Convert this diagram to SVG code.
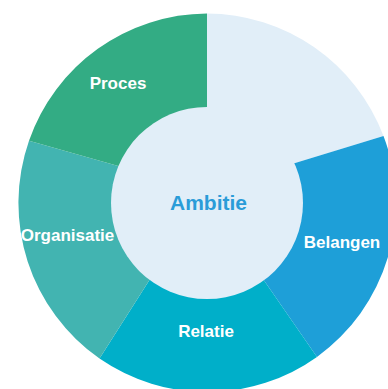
<svg xmlns="http://www.w3.org/2000/svg" width="388" height="389" viewBox="0 0 388 389">
  <style>
    .lbl { font-family: "Liberation Sans", Arial, sans-serif; font-weight: bold; font-size: 17px; fill: #ffffff; text-anchor: middle; }
    .center { font-family: "Liberation Sans", Arial, sans-serif; font-weight: bold; font-size: 21px; fill: #2A9CD8; text-anchor: middle; }
  </style>
  <rect width="388" height="389" fill="#ffffff"/>
  <g id="segment-ambitie-top">
    <path d="M207,13.5 A189.5,189.5 0 0 1 383.5,136 L251,176.5 L207,203 Z" fill="#E1EEF8"/>
  </g>
  <g id="belangen">
    <path d="M383.5,136 A189.5,189.5 0 0 1 317,356.9 L225,223.9 L207,203 L251,176.5 Z" fill="#1E9FD8"/>
    <text class="lbl" x="342" y="248">Belangen</text>
  </g>
  <g id="relatie">
    <path d="M317,356.9 A189.5,189.5 0 0 1 99.5,358.5 L187,220.9 L207,203 L225,223.9 Z" fill="#00AFC9"/>
    <text class="lbl" x="206" y="337">Relatie</text>
  </g>
  <g id="organisatie">
    <path d="M99.5,358.5 A189.5,189.5 0 0 1 29,140.7 L161.5,178.2 L207,203 L187,220.9 Z" fill="#42B4B1"/>
    <text class="lbl" x="67.5" y="241">Organisatie</text>
  </g>
  <g id="proces">
    <path d="M29,140.7 A189.5,189.5 0 0 1 207,13.5 L207,203 L161.5,178.2 Z" fill="#33AC84"/>
    <text class="lbl" x="118" y="89">Proces</text>
  </g>
  <g id="ambitie">
    <circle cx="207" cy="203" r="96" fill="#E1EEF8"/>
    <text class="center" x="208.5" y="210">Ambitie</text>
  </g>
</svg>
